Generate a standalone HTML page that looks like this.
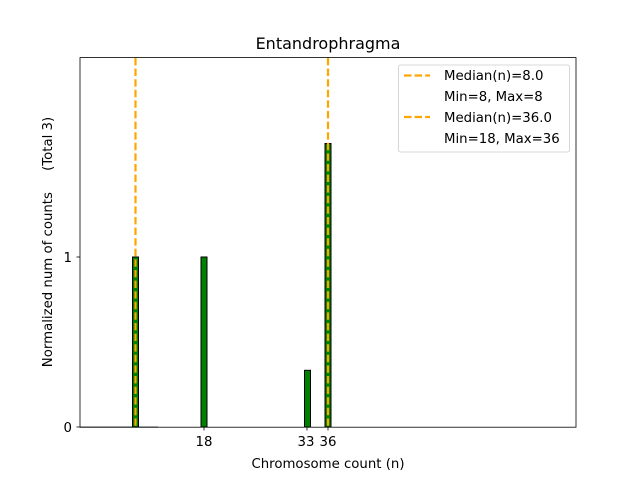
<!DOCTYPE html>
<html><head><style>body{margin:0;background:#fff}svg{display:block}text{font-family:"DejaVu Sans","Liberation Sans",sans-serif;fill:#000}</style></head>
<body>
<svg width="640" height="480" viewBox="0 0 640 480" xmlns="http://www.w3.org/2000/svg">
<rect width="640" height="480" fill="#fff"/>
<line x1="80" y1="427" x2="158" y2="427" stroke="#aaa" stroke-width="1.5"/>
<g fill="#008000" stroke="#000" stroke-width="1">
<rect x="132.5" y="257" width="6" height="170"/>
<rect x="201" y="257" width="6" height="170"/>
<rect x="304.5" y="370.3" width="6" height="56.7"/>
<rect x="325" y="143.5" width="6" height="283.5"/>
</g>
<g stroke="#FFA500" stroke-width="2.2" stroke-dasharray="7.4,3.2">
<line x1="135.5" y1="58" x2="135.5" y2="427"/>
<line x1="328" y1="58" x2="328" y2="427"/>
</g>
<rect x="80" y="57.6" width="496" height="369.6" fill="none" stroke="#000" stroke-width="0.8"/>
<g stroke="#000" stroke-width="0.8">
<line x1="80" y1="427" x2="76.5" y2="427"/><line x1="80" y1="257" x2="76.5" y2="257"/>
<line x1="204" y1="427" x2="204" y2="430.5"/><line x1="307" y1="427" x2="307" y2="430.5"/><line x1="328" y1="427" x2="328" y2="430.5"/>
</g>
<g font-size="13.3" text-anchor="end"><text x="72" y="432">0</text><text x="72" y="262">1</text></g>
<g font-size="13.3" text-anchor="middle"><text x="204" y="446">18</text><text x="306" y="446">33</text><text x="328" y="446">36</text></g>
<text x="328" y="468" font-size="13.3" text-anchor="middle">Chromosome count (n)</text>
<text transform="translate(52,242) rotate(-90)" font-size="13.3" text-anchor="middle" xml:space="preserve">Normalized num of counts     (Total 3)</text>
<text x="328" y="49" font-size="16" text-anchor="middle">Entandrophragma</text>
<rect x="398.5" y="65" width="171" height="87" rx="2" fill="#fff" fill-opacity="0.8" stroke="#ccc" stroke-width="0.8"/>
<g stroke="#FFA500" stroke-width="2.2" stroke-dasharray="7.4,3.2"><line x1="404" y1="75.5" x2="430" y2="75.5"/><line x1="404" y1="117" x2="430" y2="117"/></g>
<g font-size="13.3"><text x="444" y="80">Median(n)=8.0</text><text x="444" y="101">Min=8, Max=8</text><text x="444" y="122">Median(n)=36.0</text><text x="444" y="143">Min=18, Max=36</text></g>
</svg>
</body></html>
